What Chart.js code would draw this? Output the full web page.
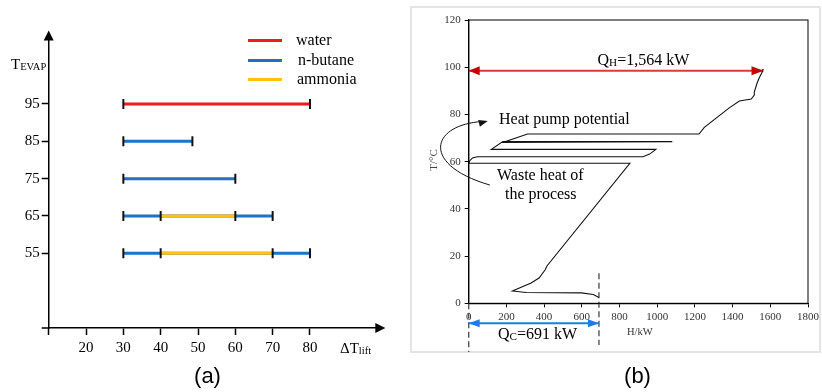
<!DOCTYPE html>
<html>
<head>
<meta charset="utf-8">
<script src="https://cdn.jsdelivr.net/npm/chart.js@4.4.1/dist/chart.umd.min.js"></script>
<style>
  body { margin: 0; width: 822px; height: 392px; background: #fff; position: relative; overflow: hidden; font-family: "Liberation Serif", serif; }
  canvas { position: absolute; top: 0; }
  #chartA { left: 0; }
  #chartB { left: 410px; }
  .box { position: absolute; left: 410px; top: 6px; width: 411px; height: 347px; border: 2px solid #e4e4e4; box-sizing: border-box; }
  .t { position: absolute; white-space: nowrap; line-height: 1; color: #000; z-index: 2; }
  .sub { font-size: 0.7em; vertical-align: -0.12em; }
  .key { position: absolute; left: 248px; width: 34px; height: 3px; z-index: 2; }
</style>
</head>
<body>
<div class="box"></div>
<canvas id="chartA" width="410" height="392"></canvas>
<canvas id="chartB" width="412" height="392"></canvas>

<!-- panel (a) texts -->
<div class="t" style="left:11px;top:56.5px;font-size:15px">T<span class="sub">EVAP</span></div>
<div class="key" style="top:38.5px;background:#f21a1a"></div>
<div class="key" style="top:59px;background:#1f72c4"></div>
<div class="key" style="top:77.5px;background:#ffc20e"></div>
<div class="t" style="left:296px;top:31.6px;font-size:16px">water</div>
<div class="t" style="left:298px;top:51.6px;font-size:16px">n-butane</div>
<div class="t" style="left:297px;top:70.6px;font-size:16px">ammonia</div>
<div class="t" style="left:340px;top:340.7px;font-size:15px">ΔT<span class="sub">lift</span></div>
<div class="t" style="left:207.5px;top:365.4px;font-size:22px;font-family:'Liberation Sans',Arial,sans-serif;transform:translateX(-50%)">(a)</div>

<!-- panel (b) texts -->
<div class="t" style="left:597.5px;top:51.6px;font-size:16px">Q<span class="sub">H</span>=1,564 kW</div>
<div class="t" style="left:499px;top:110.9px;font-size:16px">Heat pump potential</div>
<div class="t" style="left:497px;top:166.6px;font-size:16px">Waste heat of</div>
<div class="t" style="left:505px;top:185.8px;font-size:16px">the process</div>
<div class="t" style="left:498px;top:325.9px;font-size:16px">Q<span class="sub">C</span>=691 kW</div>
<div class="t" style="left:627px;top:327.2px;font-size:10.5px;color:#333">H/kW</div>
<div class="t" style="left:432.5px;top:160px;font-size:11px;color:#444;transform:translate(-50%,-50%) rotate(-90deg)">T/°C</div>
<div class="t" style="left:637.5px;top:365.4px;font-size:22px;font-family:'Liberation Sans',Arial,sans-serif;transform:translateX(-50%)">(b)</div>

<script>
// panel (a): evaporation temperature vs temperature lift range per fluid
const evapTemps = [95, 85, 75, 65, 55];
const waterRange = [[30, 80], null, null, null, null];
const butaneRange = [null, [30, 48.5], [30, 60], [30, 70], [30, 80]];
const ammoniaRange = [null, null, null, [40, 60], [40, 70]];
const liftTicks = [10, 20, 30, 40, 50, 60, 70, 80];

// panel (b): composite curve, enthalpy H (kW) and temperature T (°C)
const curveH = [691, 661, 598, 305, 232, 269, 331, 373, 405, 415, 855, 0, 5, 20, 45, 924, 960, 993, 120, 181, 1080, 181, 312, 1222, 1250, 1384, 1436, 1499, 1515, 1515, 1530, 1541, 1557, 1562];
const curveT = [2.5, 3.7, 4.4, 4.6, 5.2, 6.5, 8.6, 10.7, 14.1, 15.8, 59.3, 59.3, 60.3, 61.6, 62.1, 62.1, 63.2, 65.2, 65.2, 68.5, 68.5, 68.1, 71.7, 71.7, 74.5, 82.9, 85.7, 86.5, 88.2, 89.5, 93.3, 95.4, 98.0, 99.3];
const qhH = [0, 1564];
const qhT = [98.5, 98.5];
const qcH = [0, 691];
const qcT = [-8.5, -8.5];
const dashZeroT = [0, -20.6];
const dashQcT = [12.7, -17.7];
const hTicks = [0, 200, 400, 600, 800, 1000, 1200, 1400, 1600, 1800];
const tTicks = [0, 20, 40, 60, 80, 100, 120];
// curved arrow from "waste heat" to "heat pump potential" (start, ctrl1, ctrl2, end)
const arrowH = [112, -255, -203, 101];
const arrowT = [50.1, 58.6, 75.5, 77.2];

const serif = "'Liberation Serif', 'Times New Roman', serif";

function points(xs, ys) {
    return xs.map((x, i) => ({ x: x, y: ys[i] }));
}

function rangeSets(ranges, color, order) {
    let sets = [];
    ranges.forEach((r, i) => {
        if (!r) return;
        sets.push({
            data: [{ x: r[0], y: evapTemps[i] }, { x: r[1], y: evapTemps[i] }],
            showLine: true, borderColor: color, borderWidth: 3,
            pointRadius: 0, order: order
        });
    });
    return sets;
}

let caps = [];
[butaneRange, ammoniaRange, waterRange].forEach(ranges => {
    ranges.forEach((r, i) => {
        if (!r) return;
        caps.push({ x: r[0], y: evapTemps[i] }, { x: r[1], y: evapTemps[i] });
    });
});

function head(ctx, x, y, dir, len, half, color) {
    ctx.fillStyle = color;
    ctx.beginPath();
    ctx.moveTo(x, y);
    ctx.lineTo(x - dir * len, y - half);
    ctx.lineTo(x - dir * len, y + half);
    ctx.closePath();
    ctx.fill();
}

const axisArrows = {
    id: 'axisArrows',
    afterDraw(chart) {
        const ctx = chart.ctx, a = chart.chartArea;
        ctx.save();
        ctx.strokeStyle = '#000';
        ctx.lineWidth = 1.5;
        ctx.beginPath();
        ctx.moveTo(a.left - 7, a.bottom);
        ctx.lineTo(a.left, a.bottom);
        ctx.stroke();
        ctx.fillStyle = '#000';
        ctx.beginPath();
        ctx.moveTo(a.left, a.top - 10);
        ctx.lineTo(a.left - 5, a.top);
        ctx.lineTo(a.left + 5, a.top);
        ctx.closePath();
        ctx.fill();
        head(ctx, a.right + 10, a.bottom, 1, 10, 5, '#000');
        ctx.restore();
    }
};

new Chart(document.getElementById('chartA'), {
    type: 'scatter',
    data: {
        datasets: [
            { data: caps, pointStyle: 'line', rotation: 90, pointRadius: 5, pointBorderColor: '#111', pointBorderWidth: 2, showLine: false, order: 0 },
            ...rangeSets(ammoniaRange, '#ffc20e', 1),
            ...rangeSets(butaneRange, '#1f72c4', 2),
            ...rangeSets(waterRange, '#f21a1a', 2)
        ]
    },
    options: {
        responsive: false,
        animation: false,
        layout: { autoPadding: false, padding: { left: 8.7, right: 34.7, top: 40.5, bottom: 34 } },
        plugins: { legend: { display: false }, tooltip: { enabled: false } },
        scales: {
            x: {
                type: 'linear', min: 10, max: 97.5,
                afterBuildTicks: s => { s.ticks = liftTicks.map(v => ({ value: v })); },
                afterFit: s => { s.height = 30; },
                ticks: { callback: v => v === 10 ? '' : v, font: { family: serif, size: 15 }, color: '#000', padding: 4, maxRotation: 0, autoSkip: false },
                grid: { drawOnChartArea: false, tickLength: 7, tickWidth: 1.5, tickColor: '#000' },
                border: { color: '#000', width: 1.5 }
            },
            y: {
                type: 'linear', min: 35, max: 112,
                afterBuildTicks: s => { s.ticks = evapTemps.map(v => ({ value: v })); },
                afterFit: s => { s.width = 40; },
                ticks: { font: { family: serif, size: 15 }, color: '#000', padding: 2 },
                grid: { drawOnChartArea: false, tickLength: 7, tickWidth: 1.5, tickColor: '#000' },
                border: { color: '#000', width: 1.5 }
            }
        }
    },
    plugins: [axisArrows]
});

const curveMarks = {
    id: 'curveMarks',
    afterDraw(chart) {
        const ctx = chart.ctx, a = chart.chartArea;
        const sx = chart.scales.x, sy = chart.scales.y;
        ctx.save();
        ctx.strokeStyle = '#000';
        ctx.lineWidth = 1;
        ctx.strokeRect(a.left, a.top, a.right - a.left, a.bottom - a.top);

        head(ctx, sx.getPixelForValue(qhH[0]), sy.getPixelForValue(qhT[0]), -1, 11, 4.5, '#c80000');
        head(ctx, sx.getPixelForValue(qhH[1]), sy.getPixelForValue(qhT[1]), 1, 12, 4.5, '#c80000');
        head(ctx, sx.getPixelForValue(qcH[0]), sy.getPixelForValue(qcT[0]), -1, 11, 4, '#1a7cf0');
        head(ctx, sx.getPixelForValue(qcH[1]), sy.getPixelForValue(qcT[1]), 1, 11, 4, '#1a7cf0');

        const px = arrowH.map(v => sx.getPixelForValue(v));
        const py = arrowT.map(v => sy.getPixelForValue(v));
        ctx.strokeStyle = '#111';
        ctx.beginPath();
        ctx.moveTo(px[0], py[0]);
        ctx.bezierCurveTo(px[1], py[1], px[2], py[2], px[3] - 6, py[3] + 0.5);
        ctx.stroke();
        ctx.save();
        ctx.translate(px[3], py[3]);
        ctx.rotate(-0.25);
        head(ctx, 0, 0, 1, 9, 3.5, '#111');
        ctx.restore();
        ctx.restore();
    }
};

new Chart(document.getElementById('chartB'), {
    type: 'scatter',
    data: {
        datasets: [
            { data: points(curveH, curveT), showLine: true, borderColor: '#111', borderWidth: 1.1, pointRadius: 0 },
            { data: points(qhH, qhT), showLine: true, borderColor: '#d93a3e', borderWidth: 2, pointRadius: 0 },
            { data: points(qcH, qcT), showLine: true, borderColor: '#1a7cf0', borderWidth: 2, pointRadius: 0, clip: false },
            { data: points([0, 0], dashZeroT), showLine: true, borderColor: '#555', borderWidth: 1.4, borderDash: [6, 3.5], pointRadius: 0, clip: false },
            { data: points([691, 691], dashQcT), showLine: true, borderColor: '#555', borderWidth: 1.4, borderDash: [6, 3.5], pointRadius: 0, clip: false }
        ]
    },
    options: {
        responsive: false,
        animation: false,
        layout: { autoPadding: false, padding: { left: 28.7, right: 9.5, top: 20, bottom: 68.7 } },
        plugins: { legend: { display: false }, tooltip: { enabled: false } },
        scales: {
            x: {
                type: 'linear', min: 0, max: 1800,
                afterBuildTicks: s => { s.ticks = hTicks.map(v => ({ value: v })); },
                afterFit: s => { s.height = 20; },
                ticks: { callback: v => String(v), font: { family: serif, size: 11 }, color: '#333', padding: 3, maxRotation: 0, autoSkip: false },
                grid: { drawOnChartArea: false, tickLength: 4, tickColor: '#000' },
                border: { color: '#000', width: 1.3 }
            },
            y: {
                type: 'linear', min: 0, max: 120,
                afterBuildTicks: s => { s.ticks = tTicks.map(v => ({ value: v })); },
                afterFit: s => { s.width = 30; },
                ticks: { callback: v => String(v), font: { family: serif, size: 11 }, color: '#333', padding: 4 },
                grid: { drawOnChartArea: false, tickLength: 4, tickColor: '#000' },
                border: { color: '#000', width: 1.3 }
            }
        }
    },
    plugins: [curveMarks]
});
</script>
</body>
</html>
